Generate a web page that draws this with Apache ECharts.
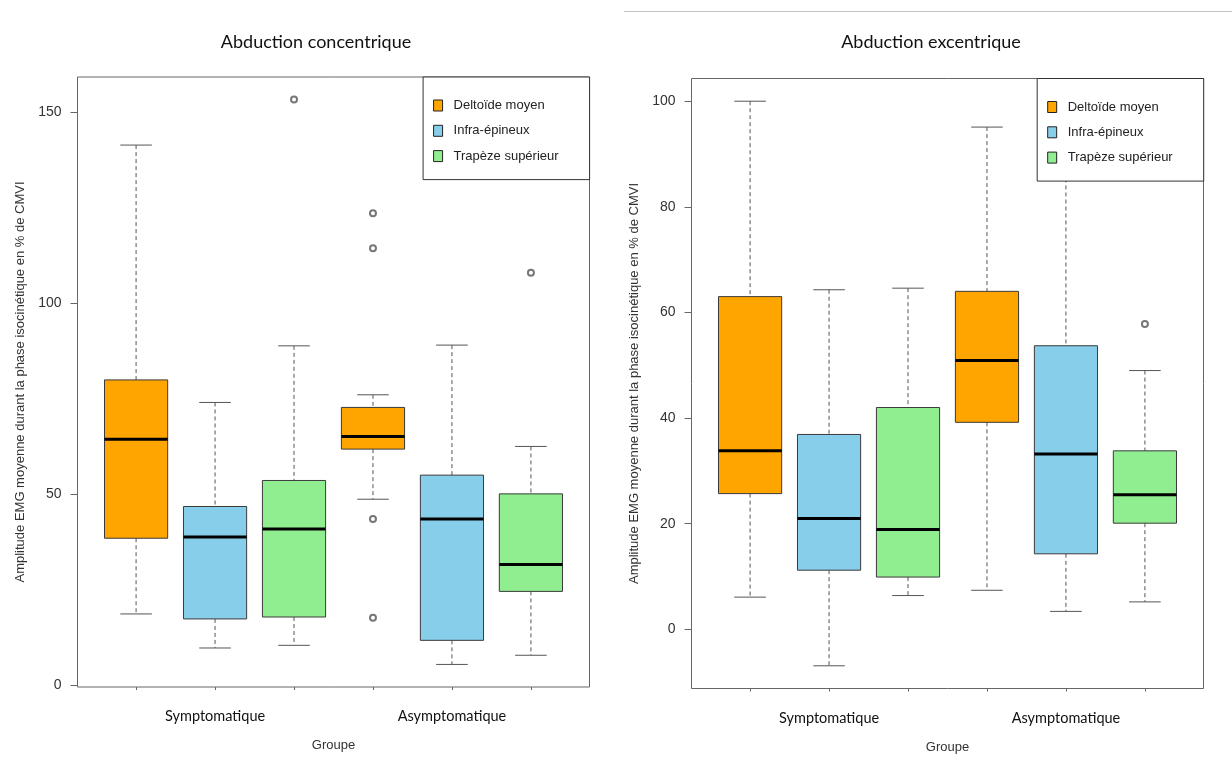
<!DOCTYPE html>
<html><head><meta charset="utf-8">
<script src="https://cdn.jsdelivr.net/npm/echarts@6/dist/echarts.min.js"></script>
<style>html,body{margin:0;padding:0;background:#fff}#c{width:1232px;height:765px}</style>
</head><body><div id="c"></div>
<script>
const groups = ['Symptomatique', 'Asymptomatique'];
const muscles = ['Deltoïde moyen', 'Infra-épineux', 'Trapèze supérieur'];
const panelTitles = ['Abduction concentrique', 'Abduction excentrique'];
const xAxisTitle = 'Groupe';
const yAxisTitle = 'Amplitude EMG moyenne durant la phase isocinétique en % de CMVI';
const yTicksConc = [0, 50, 100, 150];
const yTicksExc = [0, 20, 40, 60, 80, 100];

// [lower whisker, Q1, median, Q3, upper whisker] : Symptomatique, Asymptomatique
const concDeltoide = [[18.7, 38.5, 64.4, 79.9, 141.3], [48.7, 61.8, 65.1, 72.7, 76.0]];
const concInfra    = [[9.8, 17.4, 38.8, 46.8, 74.0], [5.5, 11.8, 43.5, 55.0, 89.0]];
const concTrapeze  = [[10.5, 17.9, 40.9, 53.6, 88.8], [7.9, 24.6, 31.6, 50.1, 62.5]];
// [muscle index, group index, value]
const concOutliers = [[2, 0, 153.2], [0, 1, 123.5], [0, 1, 114.3], [0, 1, 43.5], [0, 1, 17.7], [2, 1, 107.9]];

const excDeltoide = [[6.1, 25.7, 33.8, 63.0, 100.0], [7.4, 39.2, 50.9, 64.0, 95.1]];
const excInfra    = [[-6.9, 11.2, 21.0, 36.9, 64.3], [3.4, 14.3, 33.2, 53.7, 92.0]];
const excTrapeze  = [[6.4, 9.9, 18.9, 42.0, 64.6], [5.2, 20.1, 25.5, 33.8, 49.0]];
const excOutliers = [[2, 1, 57.8]];

const COLORS = ['#FFA500', '#87CEEB', '#90EE90'];
const panels = [
  { stats: [concDeltoide, concInfra, concTrapeze], outliers: concOutliers, ticks: yTicksConc,
    ymin: -0.4, ymax: 159.1, grid: { left: 77.5, top: 77, width: 512, height: 610 }, titleX: 311, legendRight: 642.4, legendTop: 77 },
  { stats: [excDeltoide, excInfra, excTrapeze], outliers: excOutliers, ticks: yTicksExc,
    ymin: -11.2, ymax: 104.3, grid: { left: 691.5, top: 78.5, width: 512, height: 610 }, titleX: 926, legendRight: 28.3, legendTop: 78.5 }
];
const pos = (mi, gi) => gi * 3 + mi + 1;

function renderBox(params, api) {
  const x = api.value(0);
  const p = i => api.coord([x, api.value(i)]);
  const lo = p(1), q1 = p(2), md = p(3), q3 = p(4), hi = p(5);
  const bw = api.size([0.8, 0])[0];
  const cw = api.size([0.4, 0])[0];
  const cx = lo[0];
  const dash = { stroke: '#555', lineWidth: 1, lineDash: [4, 3] };
  const solid = { stroke: '#555', lineWidth: 1 };
  return { type: 'group', children: [
    { type: 'line', shape: { x1: cx, y1: hi[1], x2: cx, y2: q3[1] }, style: dash },
    { type: 'line', shape: { x1: cx, y1: q1[1], x2: cx, y2: lo[1] }, style: dash },
    { type: 'line', shape: { x1: cx - cw / 2, y1: hi[1], x2: cx + cw / 2, y2: hi[1] }, style: solid },
    { type: 'line', shape: { x1: cx - cw / 2, y1: lo[1], x2: cx + cw / 2, y2: lo[1] }, style: solid },
    { type: 'rect', shape: { x: cx - bw / 2, y: q3[1], width: bw, height: q1[1] - q3[1] },
      style: { fill: api.visual('color'), stroke: '#3a3a3a', lineWidth: 1 } },
    { type: 'line', shape: { x1: cx - bw / 2, y1: md[1], x2: cx + bw / 2, y2: md[1] }, style: { stroke: '#000', lineWidth: 3 } }
  ] };
}

const option = { animation: false, backgroundColor: '#fff',
  title: [], grid: [], xAxis: [], yAxis: [], legend: [], series: [],
  graphic: [{ type: 'line', shape: { x1: 624, y1: 11.5, x2: 1232, y2: 11.5 }, style: { stroke: '#c4c4c4', lineWidth: 1.2 } }]
};

panels.forEach((pn, k) => {
  option.title.push({ text: panelTitles[k], left: pn.titleX, top: 28, textAlign: 'center',
    textStyle: { fontFamily: 'Lato', fontSize: 18, fontWeight: 'normal', color: '#111' } });
  option.grid.push(Object.assign({ show: true, borderColor: '#666', borderWidth: 1, backgroundColor: 'transparent' }, pn.grid));
  option.xAxis.push({ gridIndex: k, type: 'value', position: 'bottom', min: 0.258, max: 6.742,
    axisLine: { show: false, onZero: false }, splitLine: { show: false },
    axisTick: { show: true, customValues: [1, 2, 3, 4, 5, 6], length: 3, lineStyle: { color: '#666' } },
    axisLabel: { customValues: [2, 5], formatter: v => groups[Math.round((v - 2) / 3)], margin: 22,
      fontFamily: 'Lato', fontSize: 14.5, color: '#111' },
    name: xAxisTitle, nameLocation: 'middle', nameGap: 52,
    nameTextStyle: { fontFamily: 'Liberation Sans', fontSize: 13, color: '#333' } });
  option.yAxis.push({ gridIndex: k, type: 'value', position: 'left', min: pn.ymin, max: pn.ymax,
    axisLine: { show: false, onZero: false }, splitLine: { show: false },
    axisTick: { show: true, customValues: pn.ticks, length: 7, lineStyle: { color: '#666' } },
    axisLabel: { customValues: pn.ticks, margin: 16, fontFamily: 'Liberation Sans', fontSize: 14, color: '#333' },
    name: yAxisTitle, nameLocation: 'middle', nameGap: 51,
    nameTextStyle: { fontFamily: 'Liberation Sans', fontSize: 13, color: '#333' } });
  option.legend.push({ data: muscles, orient: 'vertical', right: pn.legendRight, top: pn.legendTop,
    icon: 'rect', itemWidth: 9, itemHeight: 11, itemGap: 9.3, padding: [20.5, 31, 15.5, 10],
    backgroundColor: '#fff', borderColor: '#333', borderWidth: 1, selectedMode: false,
    itemStyle: { borderColor: '#222', borderWidth: 1 },
    textStyle: { fontFamily: 'Liberation Sans', fontSize: 13, color: '#222', lineHeight: 16, padding: [0, 0, 0, 6] } });
  muscles.forEach((m, mi) => {
    option.series.push({ name: m, type: 'custom', xAxisIndex: k, yAxisIndex: k,
      itemStyle: { color: COLORS[mi] }, renderItem: renderBox,
      encode: { x: 0, y: [1, 2, 3, 4, 5] },
      data: pn.stats[mi].map((s, gi) => [pos(mi, gi)].concat(s)) });
  });
  option.series.push({ name: 'outliers', type: 'scatter', xAxisIndex: k, yAxisIndex: k,
    symbol: 'emptyCircle', symbolSize: 6, itemStyle: { color: '#555', borderWidth: 1 }, silent: true,
    data: pn.outliers.map(o => [pos(o[0], o[1]), o[2]]) });
});

const chart = echarts.init(document.getElementById('c'), null, { renderer: 'canvas' });
chart.setOption(option);
</script>
</body></html>
